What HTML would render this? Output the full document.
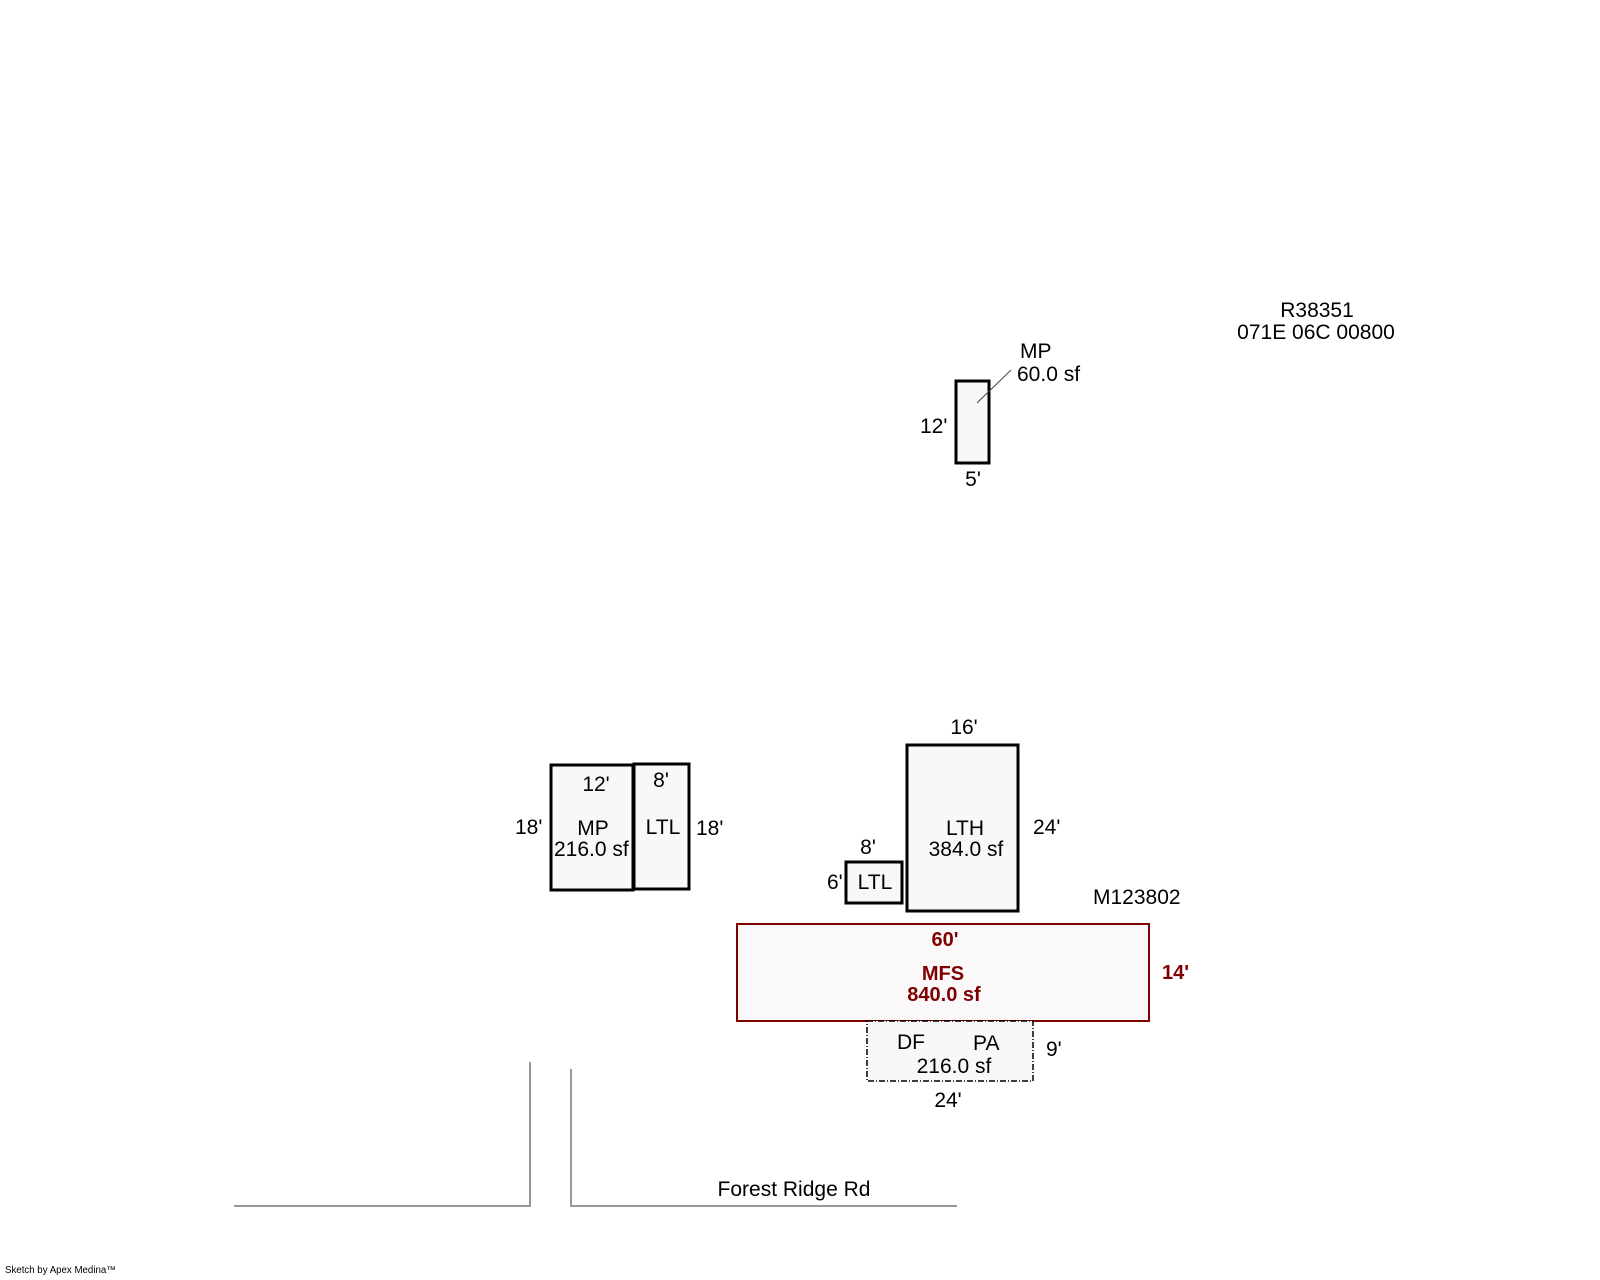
<!DOCTYPE html>
<html><head><meta charset="utf-8"><style>
html,body{margin:0;padding:0;background:#fff;}
svg{display:block;}
text{font-family:"Liberation Sans",Arial,sans-serif;font-size:21px;fill:#000;}
.r{fill:#800000;font-weight:bold;font-size:20px;}
</style></head><body>
<svg width="1600" height="1280" viewBox="0 0 1600 1280" xmlns="http://www.w3.org/2000/svg">
<rect width="1600" height="1280" fill="#fff"/>
<rect x="956" y="381" width="33" height="82" fill="#f8f8f8" stroke="#000" stroke-width="3"/>
<line x1="1011" y1="370" x2="977" y2="403" stroke="#444" stroke-width="1"/>
<rect x="551" y="765" width="82" height="125" fill="#f8f8f8" stroke="#000" stroke-width="3"/>
<rect x="634" y="764" width="55" height="125" fill="#f8f8f8" stroke="#000" stroke-width="3"/>
<rect x="907" y="745" width="111" height="166" fill="#f8f8f8" stroke="#000" stroke-width="3"/>
<rect x="846" y="862" width="56" height="41" fill="#f8f8f8" stroke="#000" stroke-width="3"/>
<rect x="737" y="924" width="412" height="97" fill="#fbf8f9" stroke="#800000" stroke-width="2"/>
<rect x="867" y="1021" width="166" height="60" fill="#f8f8f8" stroke="#000" stroke-width="1.5" stroke-dasharray="6,2,1,2"/>
<polyline points="234,1206 530,1206 530,1062" fill="none" stroke="#777" stroke-width="1.5"/>
<polyline points="571,1069 571,1206 957,1206" fill="none" stroke="#777" stroke-width="1.5"/>
<g transform="translate(-1,-2)">
<text x="1318" y="319" text-anchor="middle">R38351</text>
<text x="1317" y="341" text-anchor="middle">071E 06C 00800</text>
<text x="1021" y="360">MP</text>
<text x="1018" y="383">60.0 sf</text>
<text x="921" y="435">12'</text>
<text x="974" y="488" text-anchor="middle">5'</text>
<text x="597" y="793" text-anchor="middle">12'</text>
<text x="662" y="789" text-anchor="middle">8'</text>
<text x="516" y="836">18'</text>
<text x="594" y="837" text-anchor="middle">MP</text>
<text x="555" y="858">216.0 sf</text>
<text x="664" y="836" text-anchor="middle">LTL</text>
<text x="697" y="837">18'</text>
<text x="965" y="736" text-anchor="middle">16'</text>
<text x="966" y="837" text-anchor="middle">LTH</text>
<text x="967" y="858" text-anchor="middle">384.0 sf</text>
<text x="1034" y="836">24'</text>
<text x="869" y="856" text-anchor="middle">8'</text>
<text x="828" y="891">6'</text>
<text x="876" y="891" text-anchor="middle">LTL</text>
<text x="1094" y="906">M123802</text>
<text class="r" x="946" y="948" text-anchor="middle">60'</text>
<text class="r" x="944" y="982" text-anchor="middle">MFS</text>
<text class="r" x="945" y="1003" text-anchor="middle">840.0 sf</text>
<text class="r" x="1163" y="981">14'</text>
<text x="898" y="1051">DF</text>
<text x="974" y="1052">PA</text>
<text x="955" y="1075" text-anchor="middle">216.0 sf</text>
<text x="1047" y="1058">9'</text>
<text x="949" y="1109" text-anchor="middle">24'</text>
<text x="795" y="1198" text-anchor="middle">Forest Ridge Rd</text>
</g>
<text x="5" y="1273" style="font-size:9.7px">Sketch by Apex Medina™</text>
</svg>
</body></html>
